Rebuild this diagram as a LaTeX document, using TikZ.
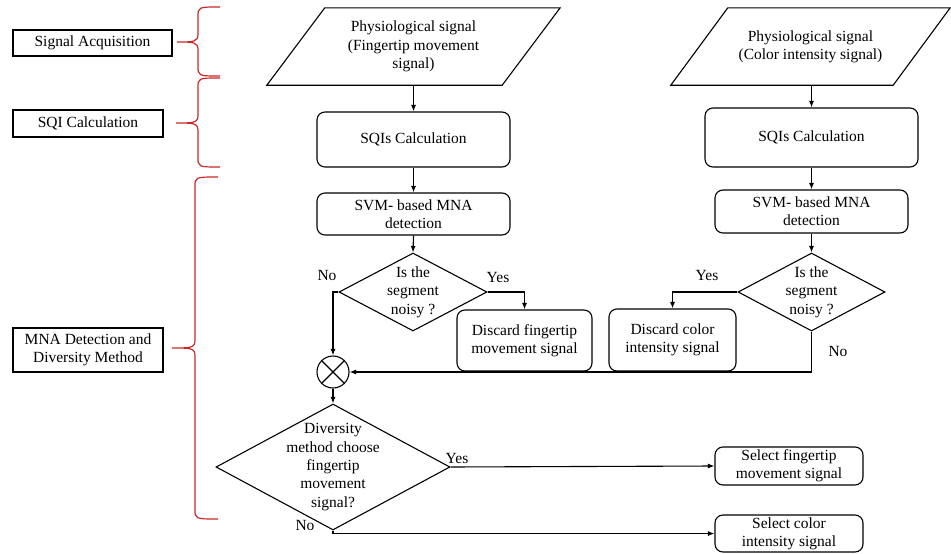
\documentclass[tikz,border=0pt]{standalone}
\usepackage{fontspec}
\setmainfont{Liberation Serif}
\usetikzlibrary{shapes.geometric,arrows.meta,calc}
\definecolor{bracered}{RGB}{200,40,40}
\begin{document}
\begin{tikzpicture}[x=1pt,y=-1pt,
  every node/.style={font=\fontsize{15.5}{18.3}\selectfont, align=center, inner sep=0pt},
  box/.style={draw, line width=1.1pt, rounded corners=8pt},
  lblbox/.style={draw, line width=1.1pt},
  para/.style={draw=none},
  dia/.style={draw, line width=1.1pt, diamond},
  arr/.style={line width=1.1pt, -{Latex[length=6.5pt,width=5pt]}},
  brc/.style={draw=bracered, line width=1.2pt},
]
\useasboundingbox (0,0) rectangle (951,554);

% left labels
\node[lblbox, minimum width=159pt, minimum height=26pt] (sa) at (92.5,43) {Signal Acquisition};
\node[lblbox, minimum width=150pt, minimum height=27pt] (sq) at (88,123.5) {SQI Calculation};
\node[lblbox, minimum width=150pt, minimum height=44pt] (mna) at (88,350) {MNA Detection and\\Diversity Method};

% braces
\draw[brc] (220,7) .. controls (198,7) .. (198,17) -- (198,34) .. controls (198,42) and (194,42) .. (177,42)
  .. controls (194,42) and (198,42) .. (198,50) -- (198,66) .. controls (198,76) .. (220,76);
\draw[brc] (220,78) .. controls (198,78) .. (198,88) -- (198,115) .. controls (198,123) and (194,123) .. (176,123)
  .. controls (194,123) and (198,123) .. (198,131) -- (198,157) .. controls (198,167) .. (220,167);
\draw[brc] (218,177) .. controls (195,177) .. (195,187) -- (195,340) .. controls (195,348) and (191,348) .. (172,348)
  .. controls (191,348) and (195,348) .. (195,356) -- (195,509) .. controls (195,519) .. (218,519);

% left column
\node[para, minimum width=293pt, minimum height=77pt] (p1) at (413.5,46.5) {Physiological signal\\(Fingertip movement\\signal)};
\draw[line width=1.1pt] ($(p1.north west)+(58,0)$) -- (p1.north east) -- ($(p1.south east)-(58,0)$) -- (p1.south west) -- cycle;
\node[box, minimum width=193pt, minimum height=55pt] (s1) at (413.5,139.5) {SQIs Calculation};
\node[box, minimum width=193pt, minimum height=42pt] (v1) at (413.5,214) {SVM- based MNA\\detection};
\node[dia, minimum width=148pt, minimum height=78pt, label={[align=center]center:{Is the\\segment\\noisy ?}}] (d1) at (413,292) {};
\node[box, minimum width=135pt, minimum height=61pt] (df1) at (524.5,340.5) {Discard fingertip\\movement signal};
\node[draw, line width=1.1pt, circle, minimum size=32pt] (circ) at (333,372) {};
\draw[line width=1.1pt] (circ.45) -- (circ.225) (circ.135) -- (circ.315);
\node[dia, minimum width=234pt, minimum height=126pt, label={[align=center]center:{Diversity\\method choose\\fingertip\\movement\\signal?}}] (d2) at (333,467) {};
\node[box, minimum width=148pt, minimum height=38pt] (sel1) at (789,466) {Select fingertip\\movement signal};
\node[box, minimum width=148pt, minimum height=37pt] (sel2) at (789,533.5) {Select color\\intensity signal};

% right column
\node[para, minimum width=279pt, minimum height=77pt] (p2) at (810.5,46.5) {Physiological signal\\(Color intensity signal)};
\draw[line width=1.1pt] ($(p2.north west)+(57,0)$) -- (p2.north east) -- ($(p2.south east)-(57,0)$) -- (p2.south west) -- cycle;
\node[box, minimum width=213pt, minimum height=59pt] (s2) at (811.5,137.5) {SQIs Calculation};
\node[box, minimum width=193pt, minimum height=43pt] (v2) at (811.5,211.5) {SVM- based MNA\\detection};
\node[dia, minimum width=147pt, minimum height=78pt, label={[align=center]center:{Is the\\segment\\noisy ?}}] (d1r) at (811.5,292) {};
\node[box, minimum width=127pt, minimum height=62pt] (df2) at (672.5,340) {Discard color\\intensity signal};

% connectors
\draw[arr] (p1.south) -- (s1.north);
\draw[arr] (s1.south) -- (v1.north);
\draw[arr] (v1.south) -- (d1.north);
\draw[arr] (d1.east) -| (df1.north);
\draw[arr] (d1.west) -| (circ.north);
\draw[arr] (circ.south) -- (d2.north);
\draw[arr] (d2.east) -- (sel1.west);
\draw[arr] (d2.south) |- (sel2.west);

\draw[arr] (p2.south -| s2.north) -- (s2.north);
\draw[arr] (s2.south) -- (v2.north);
\draw[arr] (v2.south) -- (d1r.north);
\draw[arr] (d1r.west) -| (df2.north);
\draw[arr] (d1r.south) |- (circ.east);

% branch labels
\node (n1) at (327,275) {No};
\node (y1) at (498,277) {Yes};
\node (y2) at (707,275) {Yes};
\node (n2) at (838,351) {No};
\node (y3) at (457,458) {Yes};
\node (n3) at (305,525) {No};
\end{tikzpicture}
\end{document}
